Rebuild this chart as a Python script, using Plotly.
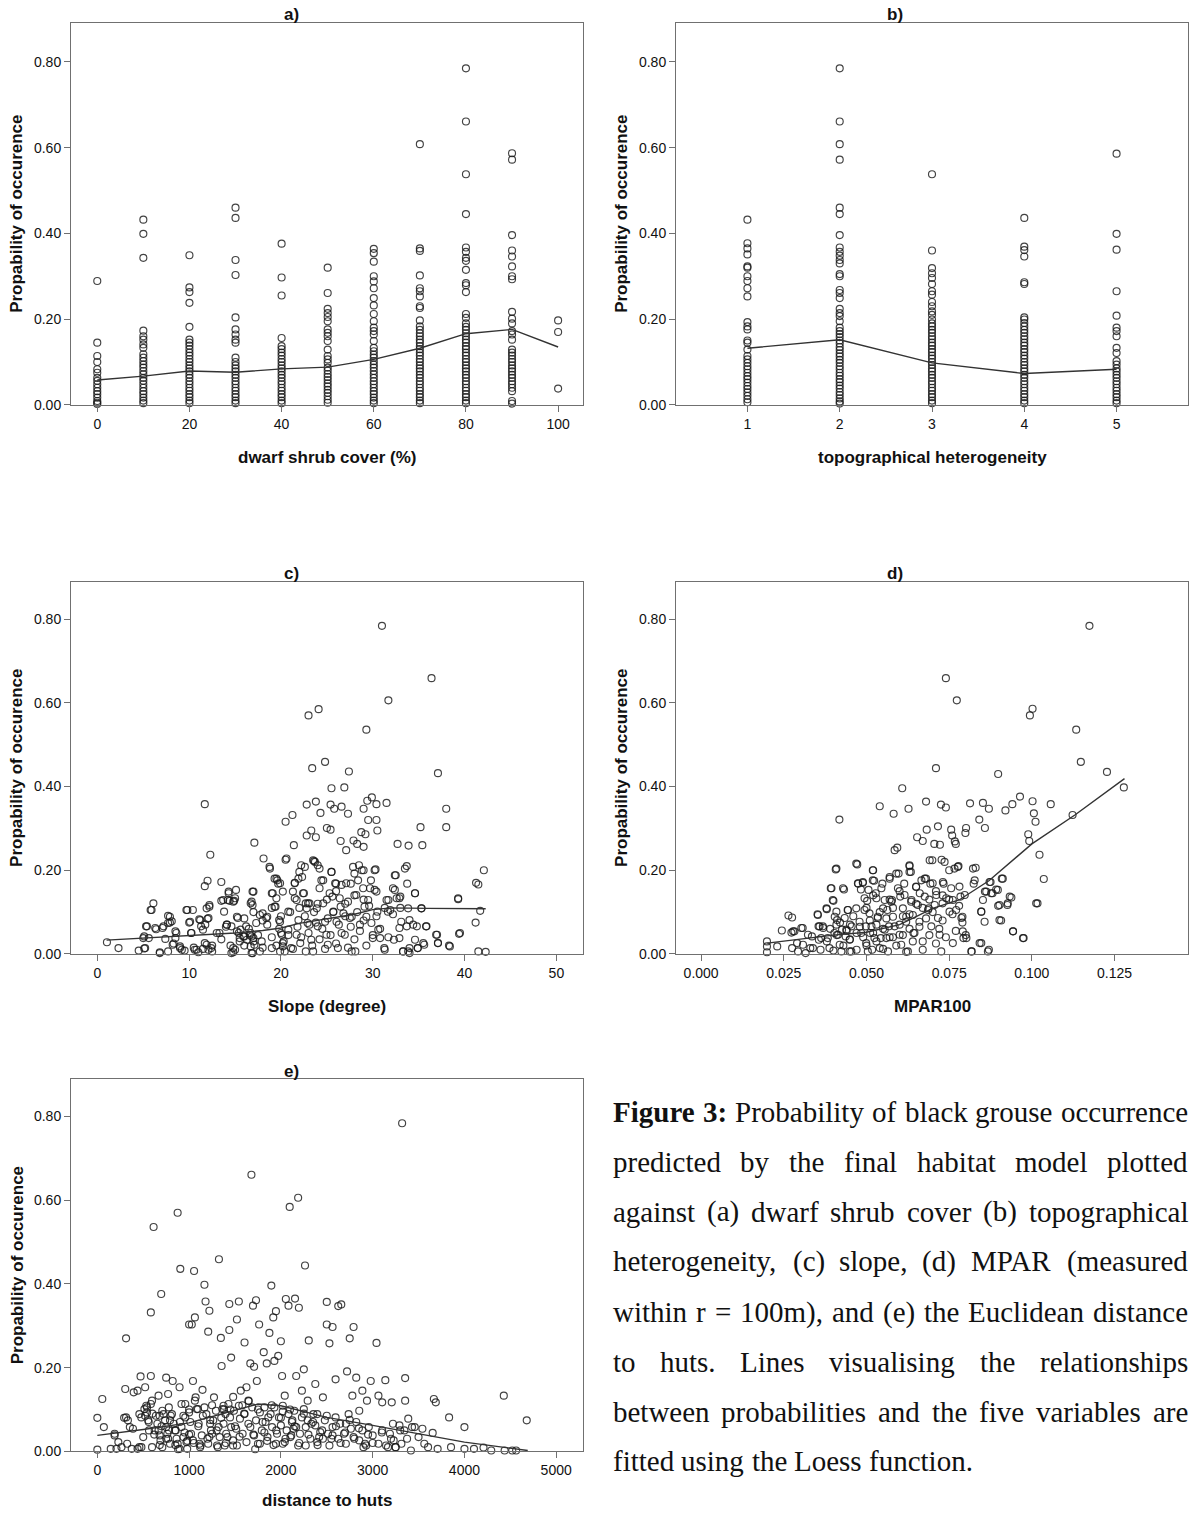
import plotly.graph_objects as go

# reference page size; the page's default body margin is removed in the written html
PAGE_W, PAGE_H = 1189, 1521
OFF = 0
W, H = PAGE_W, PAGE_H

# ---------------- data ----------------
# (a) dwarf shrub cover (%)  -> probability values per cover class
shrub_0 = [0.289, 0.145, 0.114, 0.100, 0.083, 0.075, 0.063, 0.056, 0.048, 0.040, 0.032, 0.025, 0.017, 0.009, 0.005, 0.002]
shrub_10 = [0.432, 0.399, 0.343, 0.173, 0.160, 0.152, 0.141, 0.133, 0.118, 0.110, 0.102, 0.094, 0.087, 0.079, 0.071, 0.063, 0.056, 0.048, 0.040, 0.032, 0.025, 0.017, 0.010, 0.004]
shrub_20 = [0.349, 0.274, 0.263, 0.238, 0.182, 0.152, 0.145, 0.138, 0.130, 0.122, 0.115, 0.107, 0.100, 0.092, 0.085, 0.078, 0.070, 0.063, 0.055, 0.048, 0.040, 0.033, 0.025, 0.018, 0.010, 0.004]
shrub_30 = [0.460, 0.436, 0.338, 0.303, 0.204, 0.176, 0.164, 0.152, 0.145, 0.110, 0.100, 0.092, 0.085, 0.078, 0.070, 0.063, 0.055, 0.048, 0.040, 0.033, 0.025, 0.018, 0.010, 0.004]
shrub_40 = [0.376, 0.297, 0.255, 0.156, 0.137, 0.130, 0.122, 0.115, 0.107, 0.100, 0.092, 0.085, 0.078, 0.070, 0.063, 0.055, 0.048, 0.040, 0.033, 0.025, 0.018, 0.010, 0.004]
shrub_50 = [0.320, 0.261, 0.224, 0.214, 0.205, 0.195, 0.176, 0.168, 0.160, 0.149, 0.129, 0.114, 0.106, 0.098, 0.087, 0.080, 0.072, 0.065, 0.058, 0.050, 0.043, 0.035, 0.028, 0.020, 0.012, 0.005]
shrub_60 = [0.364, 0.354, 0.334, 0.300, 0.288, 0.272, 0.249, 0.232, 0.212, 0.195, 0.180, 0.172, 0.164, 0.149, 0.133, 0.125, 0.117, 0.110, 0.102, 0.094, 0.087, 0.079, 0.071, 0.063, 0.055, 0.048, 0.040, 0.032, 0.025, 0.017, 0.010, 0.004]
shrub_70 = [0.608, 0.365, 0.359, 0.302, 0.272, 0.265, 0.253, 0.230, 0.226, 0.197, 0.183, 0.175, 0.167, 0.160, 0.152, 0.145, 0.137, 0.130, 0.122, 0.115, 0.107, 0.100, 0.092, 0.085, 0.078, 0.070, 0.063, 0.055, 0.048, 0.040, 0.033, 0.025, 0.018, 0.010, 0.004]
shrub_80 = [0.785, 0.661, 0.538, 0.445, 0.367, 0.357, 0.343, 0.336, 0.315, 0.284, 0.279, 0.263, 0.212, 0.203, 0.190, 0.182, 0.175, 0.167, 0.160, 0.152, 0.145, 0.137, 0.130, 0.122, 0.115, 0.107, 0.100, 0.092, 0.085, 0.078, 0.070, 0.063, 0.055, 0.048, 0.040, 0.033, 0.025, 0.018, 0.010, 0.004]
shrub_90 = [0.587, 0.572, 0.396, 0.360, 0.346, 0.323, 0.300, 0.293, 0.217, 0.201, 0.190, 0.172, 0.164, 0.152, 0.129, 0.122, 0.115, 0.107, 0.100, 0.092, 0.085, 0.078, 0.070, 0.063, 0.055, 0.048, 0.040, 0.032, 0.009, 0.003]
shrub_100 = [0.197, 0.170, 0.038]
shrub_classes = [0, 10, 20, 30, 40, 50, 60, 70, 80, 90, 100]
shrub_groups = [shrub_0, shrub_10, shrub_20, shrub_30, shrub_40, shrub_50, shrub_60, shrub_70, shrub_80, shrub_90, shrub_100]
shrub_loess = [0.058, 0.067, 0.079, 0.076, 0.084, 0.088, 0.106, 0.132, 0.166, 0.176, 0.135]

# (b) topographical heterogeneity
topo_1 = [0.432, 0.377, 0.365, 0.351, 0.323, 0.320, 0.300, 0.289, 0.272, 0.253, 0.193, 0.183, 0.176, 0.150, 0.145, 0.129, 0.114, 0.106, 0.098, 0.090, 0.083, 0.075, 0.067, 0.060, 0.052, 0.044, 0.037, 0.029, 0.021, 0.013, 0.006]
topo_2 = [0.785, 0.661, 0.608, 0.572, 0.460, 0.445, 0.396, 0.367, 0.357, 0.348, 0.338, 0.330, 0.305, 0.300, 0.268, 0.261, 0.249, 0.224, 0.214, 0.207, 0.195, 0.180, 0.172, 0.165, 0.158, 0.150, 0.143, 0.135, 0.128, 0.120, 0.113, 0.105, 0.098, 0.090, 0.083, 0.075, 0.068, 0.060, 0.053, 0.045, 0.038, 0.030, 0.023, 0.015, 0.008, 0.003]
topo_3 = [0.538, 0.360, 0.319, 0.307, 0.296, 0.282, 0.265, 0.257, 0.240, 0.230, 0.218, 0.210, 0.199, 0.190, 0.183, 0.175, 0.168, 0.160, 0.153, 0.145, 0.138, 0.130, 0.123, 0.115, 0.108, 0.100, 0.093, 0.085, 0.078, 0.070, 0.063, 0.055, 0.048, 0.040, 0.033, 0.025, 0.018, 0.010, 0.004]
topo_4 = [0.436, 0.369, 0.361, 0.346, 0.286, 0.282, 0.204, 0.199, 0.191, 0.183, 0.175, 0.168, 0.160, 0.153, 0.145, 0.138, 0.130, 0.123, 0.115, 0.108, 0.100, 0.093, 0.085, 0.078, 0.070, 0.063, 0.055, 0.048, 0.040, 0.033, 0.025, 0.018, 0.010, 0.004]
topo_5 = [0.586, 0.399, 0.362, 0.265, 0.208, 0.180, 0.172, 0.160, 0.133, 0.121, 0.102, 0.094, 0.085, 0.078, 0.070, 0.063, 0.055, 0.048, 0.040, 0.033, 0.025, 0.018, 0.010, 0.004]
topo_classes = [1, 2, 3, 4, 5]
topo_groups = [topo_1, topo_2, topo_3, topo_4, topo_5]
topo_loess = [0.132, 0.152, 0.098, 0.073, 0.083]

# (c) slope (degree)
slope_x = [1.04, 2.3, 4.5, 5.1, 5.4, 5.8, 6.1, 5.1, 5.6, 6.4, 6.8, 7.1, 7.4, 7.7, 7.9, 8.1, 7.7, 8.5, 8.5, 9.0, 9.2, 9.8, 10.4, 10.0, 10.2, 10.6, 11.0, 11.1, 11.7, 11.7, 12.0, 12.3, 12.2, 12.0, 11.75, 11.5, 11.9, 12.1, 12.5, 13.5, 13.5, 13.8, 14.1, 14.4, 14.3, 14.6, 14.8, 14.9, 15.1, 15.2, 15.4, 15.6, 16.0, 16.3, 16.7, 16.9, 16.9, 17.1, 16.7, 16.8, 16.7, 16.9, 17.3, 17.7, 18.0, 18.1, 18.5, 18.75, 19.0, 19.3, 19.6, 19.7, 19.4, 19.8, 20.0, 20.2, 20.4, 20.5, 20.5, 20.2, 20.8, 21.25, 21.4, 21.5, 21.5, 21.7, 21.9, 22.1, 22.3, 22.5, 22.7, 22.9, 22.7, 22.8, 22.8, 23.3, 23.4, 23.0, 24.1, 23.8, 23.8, 23.6, 24.0, 24.2, 24.3, 24.6, 24.8, 25.0, 25.4, 25.4, 25.5, 25.5, 25.8, 25.6, 26.0, 26.5, 26.5, 26.6, 26.9, 27.1, 27.3, 27.4, 27.6, 27.7, 28.1, 27.9, 28.3, 28.5, 28.75, 29.0, 29.0, 29.0, 29.2, 29.3, 29.4, 29.5, 29.8, 29.9, 30.2, 30.3, 30.4, 30.4, 30.5, 31.0, 31.25, 31.5, 31.7, 31.7, 31.9, 32.3, 32.4, 32.5, 32.7, 32.9, 33.0, 33.3, 33.7, 33.75, 33.9, 34.0, 34.0, 34.4, 34.6, 34.6, 34.9, 35.2, 35.3, 35.4, 35.6, 35.8, 36.4, 37.0, 37.1, 37.1, 38.0, 38.0, 38.3, 39.3, 39.4, 41.2, 41.25, 41.5, 41.5, 41.7, 42.1, 42.3,
           15.0, 15.5, 16.0, 16.5, 17.0, 17.5, 18.0, 18.5, 19.0, 19.5, 19.8, 20.3, 20.8, 21.3, 21.8, 22.2, 22.6, 23.0, 23.4, 23.6, 23.8, 24.2, 24.5, 24.8, 25.1, 25.4, 25.7, 26.0, 26.3, 26.6, 27.0, 27.3, 27.6, 28.0, 28.3, 28.6, 29.0, 29.3, 29.6, 30.0, 30.4, 30.8, 31.3, 31.7, 32.2, 33.0, 24.0, 25.0, 26.0, 27.0, 28.0, 29.0, 22.0, 21.0, 20.0, 19.0, 18.0, 17.0, 16.0, 13.0, 12.5, 13.5, 14.0, 14.5, 9.5, 10.5, 11.5, 8.3,
           5.0, 5.2, 5.3, 5.9, 6.3, 6.8, 7.2, 7.7, 7.9, 8.2, 8.6, 9.0, 9.7, 10.1, 10.25, 10.8, 11.2, 11.3, 11.9, 12.1, 12.2, 11.7, 12.4, 13.3, 13.7, 14.1, 14.2, 14.3, 14.8, 15.0, 15.2, 14.8, 14.6, 15.3, 15.5, 15.9, 16.2, 16.6, 16.8, 17.0, 17.0, 17.1, 16.8, 17.7, 17.9, 18.4, 18.8, 19.0, 19.1, 19.3, 19.5, 19.9, 19.5, 19.9, 20.1, 20.2, 19.9, 20.6, 20.8, 21.1, 21.3, 21.5, 21.7, 21.9, 22.0, 22.2, 22.4, 22.6, 22.8, 22.95, 23.1, 23.1, 23.5, 23.7, 23.3, 23.5, 23.9, 24.0, 24.2, 24.4, 24.6, 24.8, 24.95, 25.1, 25.3, 25.5, 25.7, 25.9, 26.05, 26.2, 26.4, 26.6, 26.8, 26.95, 27.1, 27.3, 27.5, 27.7, 27.85, 28.0, 28.2, 28.4, 28.6, 28.8, 28.95, 29.1, 29.3, 29.5, 29.7, 29.85, 30.0, 30.2, 30.4, 30.5, 30.6, 30.8, 31.3, 31.5, 31.65, 32.2, 32.4, 32.6, 32.9, 32.9, 33.1, 33.3, 33.5, 33.7, 33.85, 33.85, 34.0, 34.6, 34.8, 34.9, 35.3, 35.5, 35.85, 36.9, 37.1, 38.4, 39.3, 39.5]
slope_y = [0.028, 0.014, 0.008, 0.013, 0.066, 0.105, 0.121, 0.042, 0.038, 0.059, 0.004, 0.062, 0.036, 0.091, 0.075, 0.078, 0.006, 0.054, 0.038, 0.018, 0.010, 0.105, 0.105, 0.075, 0.050, 0.010, 0.004, 0.083, 0.358, 0.162, 0.175, 0.237, 0.117, 0.084, 0.070, 0.058, 0.022, 0.010, 0.006, 0.172, 0.127, 0.101, 0.070, 0.127, 0.145, 0.066, 0.004, 0.127, 0.153, 0.089, 0.050, 0.058, 0.042, 0.034, 0.121, 0.149, 0.117, 0.266, 0.050, 0.042, 0.018, 0.002, 0.074, 0.006, 0.097, 0.228, 0.089, 0.208, 0.145, 0.180, 0.176, 0.168, 0.113, 0.081, 0.050, 0.018, 0.006, 0.316, 0.225, 0.149, 0.101, 0.332, 0.260, 0.170, 0.133, 0.046, 0.081, 0.026, 0.184, 0.145, 0.121, 0.074, 0.006, 0.357, 0.283, 0.295, 0.444, 0.570, 0.585, 0.364, 0.279, 0.222, 0.212, 0.204, 0.337, 0.176, 0.459, 0.301, 0.297, 0.357, 0.396, 0.196, 0.347, 0.137, 0.168, 0.113, 0.270, 0.352, 0.398, 0.248, 0.335, 0.436, 0.168, 0.089, 0.006, 0.271, 0.263, 0.212, 0.291, 0.347, 0.256, 0.200, 0.286, 0.536, 0.366, 0.320, 0.176, 0.374, 0.153, 0.202, 0.320, 0.358, 0.295, 0.784, 0.014, 0.361, 0.606, 0.129, 0.105, 0.034, 0.153, 0.188, 0.263, 0.062, 0.137, 0.006, 0.210, 0.168, 0.259, 0.002, 0.081, 0.070, 0.034, 0.145, 0.014, 0.303, 0.109, 0.260, 0.022, 0.066, 0.659, 0.046, 0.432, 0.026, 0.347, 0.303, 0.020, 0.131, 0.048, 0.075, 0.170, 0.166, 0.006, 0.103, 0.200, 0.005,
           0.010, 0.030, 0.020, 0.060, 0.030, 0.045, 0.015, 0.070, 0.040, 0.020, 0.060, 0.030, 0.045, 0.012, 0.065, 0.040, 0.090, 0.050, 0.020, 0.100, 0.075, 0.035, 0.060, 0.012, 0.085, 0.045, 0.100, 0.025, 0.070, 0.050, 0.090, 0.015, 0.065, 0.035, 0.100, 0.055, 0.080, 0.020, 0.115, 0.045, 0.090, 0.060, 0.110, 0.040, 0.095, 0.110, 0.120, 0.130, 0.150, 0.120, 0.140, 0.130, 0.110, 0.100, 0.090, 0.110, 0.080, 0.100, 0.085, 0.050, 0.020, 0.035, 0.065, 0.020, 0.008, 0.015, 0.012, 0.025,
           0.038, 0.014, 0.066, 0.105, 0.062, 0.002, 0.066, 0.074, 0.089, 0.022, 0.050, 0.014, 0.105, 0.077, 0.050, 0.010, 0.081, 0.066, 0.109, 0.086, 0.113, 0.026, 0.014, 0.050, 0.129, 0.070, 0.129, 0.149, 0.125, 0.133, 0.054, 0.014, 0.002, 0.086, 0.038, 0.042, 0.066, 0.046, 0.125, 0.149, 0.038, 0.022, 0.002, 0.093, 0.030, 0.086, 0.204, 0.014, 0.145, 0.113, 0.180, 0.169, 0.133, 0.077, 0.046, 0.026, 0.006, 0.228, 0.058, 0.014, 0.149, 0.169, 0.129, 0.180, 0.196, 0.212, 0.145, 0.208, 0.109, 0.121, 0.070, 0.121, 0.224, 0.220, 0.034, 0.006, 0.109, 0.066, 0.157, 0.176, 0.121, 0.077, 0.046, 0.022, 0.145, 0.196, 0.101, 0.169, 0.077, 0.014, 0.133, 0.165, 0.097, 0.046, 0.169, 0.125, 0.086, 0.006, 0.208, 0.192, 0.141, 0.176, 0.070, 0.200, 0.157, 0.113, 0.089, 0.129, 0.157, 0.074, 0.038, 0.200, 0.149, 0.101, 0.058, 0.038, 0.010, 0.129, 0.101, 0.157, 0.188, 0.133, 0.133, 0.038, 0.077, 0.006, 0.204, 0.066, 0.006, 0.109, 0.014, 0.145, 0.066, 0.014, 0.109, 0.026, 0.066, 0.046, 0.026, 0.018, 0.133, 0.050]
slope_loess_x = [1, 5, 10, 15, 18, 20, 22, 24, 26, 28, 30, 32, 36, 42.3]
slope_loess_y = [0.033, 0.038, 0.044, 0.050, 0.056, 0.062, 0.073, 0.080, 0.087, 0.095, 0.106, 0.110, 0.109, 0.108]

# (d) MPAR100
mpar_x = [0.0199, 0.0199, 0.0199, 0.023, 0.0244, 0.0264, 0.0275, 0.0273, 0.0282, 0.0275, 0.029, 0.0293, 0.0307, 0.0316, 0.033, 0.0335, 0.0352, 0.0355, 0.0356, 0.0361, 0.0369, 0.038, 0.0392, 0.040, 0.0403, 0.0407, 0.0409, 0.0411, 0.0418, 0.0426, 0.0432, 0.0437, 0.0443, 0.0449, 0.0455, 0.0472, 0.0475, 0.0483, 0.0489, 0.0494, 0.0498, 0.0502, 0.0506, 0.0511, 0.0517, 0.052, 0.0523, 0.0528, 0.0534, 0.054, 0.0543, 0.0548, 0.0555, 0.0563, 0.0568, 0.057, 0.0577, 0.0582, 0.0585, 0.0593, 0.0597, 0.0602, 0.0608, 0.0614, 0.062, 0.0627, 0.063, 0.0634, 0.0636, 0.0642, 0.0653, 0.0661, 0.067, 0.0676, 0.068, 0.0682, 0.0688, 0.0693, 0.0699, 0.0705, 0.071, 0.0716, 0.0722, 0.0725, 0.0727, 0.073, 0.0733, 0.074, 0.074, 0.075, 0.0756, 0.0759, 0.0761, 0.0767, 0.077, 0.0773, 0.0778, 0.0784, 0.079, 0.0793, 0.0799, 0.0801, 0.0813, 0.0818, 0.0824, 0.083, 0.0841, 0.0847, 0.0847, 0.0852, 0.0858, 0.0858, 0.087, 0.087, 0.0875, 0.0881, 0.0892, 0.0898, 0.0898, 0.0907, 0.0909, 0.092, 0.0926, 0.0938, 0.0941, 0.0943, 0.0964, 0.0975, 0.0989, 0.0992, 0.0994, 0.1002, 0.1002, 0.1006, 0.1011, 0.1017, 0.1023, 0.1036, 0.1057, 0.1123, 0.1134, 0.1148, 0.1227, 0.1278, 0.1174,
          0.038, 0.039, 0.040, 0.041, 0.042, 0.043, 0.044, 0.045, 0.046, 0.047, 0.048, 0.049, 0.050, 0.050, 0.051, 0.052, 0.053, 0.054, 0.055, 0.055, 0.056, 0.057, 0.058, 0.059, 0.060, 0.061, 0.062, 0.063, 0.064, 0.065, 0.066, 0.067, 0.068, 0.069, 0.070, 0.071, 0.072, 0.073, 0.074, 0.075, 0.076, 0.077, 0.078, 0.079, 0.080, 0.045, 0.047, 0.053, 0.058, 0.061, 0.063, 0.067, 0.069, 0.071, 0.073, 0.065, 0.060, 0.057, 0.052,
          0.0278, 0.0303, 0.0308, 0.0323, 0.0338, 0.0353, 0.0358, 0.0363, 0.0368, 0.0379, 0.0383, 0.0388, 0.0394, 0.0398, 0.0404, 0.0409, 0.0409, 0.0414, 0.0419, 0.0424, 0.0429, 0.0434, 0.0439, 0.0444, 0.0449, 0.0454, 0.0469, 0.0469, 0.0474, 0.0479, 0.0484, 0.0489, 0.0494, 0.0499, 0.0504, 0.0509, 0.0515, 0.0519, 0.0519, 0.0524, 0.053, 0.0534, 0.054, 0.0545, 0.055, 0.0555, 0.056, 0.0565, 0.057, 0.0575, 0.058, 0.0585, 0.059, 0.0595, 0.060, 0.0605, 0.061, 0.0615, 0.062, 0.0625, 0.063, 0.063, 0.0635, 0.064, 0.0645, 0.065, 0.0655, 0.066, 0.0666, 0.067, 0.0676, 0.068, 0.0686, 0.0691, 0.0696, 0.070, 0.0706, 0.0711, 0.0716, 0.0721, 0.0726, 0.0731, 0.0736, 0.0741, 0.0751, 0.0756, 0.0761, 0.0766, 0.0771, 0.0776, 0.0781, 0.0787, 0.0791, 0.0797, 0.0802, 0.0817, 0.0822, 0.0827, 0.0842, 0.0847, 0.0852, 0.0857, 0.0862, 0.0867, 0.0872, 0.0877, 0.0897, 0.0902, 0.0902, 0.0912, 0.0927, 0.0933, 0.0943, 0.0973, 0.1013]
mpar_y = [0.030, 0.018, 0.004, 0.018, 0.056, 0.092, 0.087, 0.051, 0.054, 0.014, 0.026, 0.006, 0.062, 0.002, 0.014, 0.042, 0.095, 0.066, 0.034, 0.010, 0.062, 0.107, 0.157, 0.127, 0.050, 0.202, 0.101, 0.081, 0.321, 0.058, 0.154, 0.042, 0.105, 0.006, 0.066, 0.214, 0.168, 0.154, 0.170, 0.105, 0.066, 0.127, 0.153, 0.050, 0.010, 0.200, 0.175, 0.145, 0.089, 0.353, 0.038, 0.168, 0.129, 0.105, 0.066, 0.184, 0.129, 0.335, 0.248, 0.254, 0.192, 0.137, 0.396, 0.168, 0.089, 0.347, 0.210, 0.196, 0.129, 0.050, 0.279, 0.145, 0.270, 0.180, 0.364, 0.297, 0.109, 0.168, 0.224, 0.263, 0.444, 0.305, 0.261, 0.357, 0.225, 0.121, 0.168, 0.350, 0.659, 0.200, 0.297, 0.283, 0.129, 0.269, 0.263, 0.606, 0.210, 0.137, 0.089, 0.038, 0.289, 0.301, 0.360, 0.006, 0.168, 0.206, 0.321, 0.101, 0.026, 0.361, 0.301, 0.149, 0.347, 0.010, 0.172, 0.145, 0.154, 0.430, 0.115, 0.080, 0.180, 0.343, 0.117, 0.135, 0.358, 0.054, 0.376, 0.038, 0.286, 0.270, 0.570, 0.586, 0.365, 0.336, 0.316, 0.121, 0.237, 0.179, 0.358, 0.332, 0.536, 0.459, 0.435, 0.398, 0.784,
          0.030, 0.060, 0.008, 0.045, 0.075, 0.020, 0.055, 0.035, 0.090, 0.010, 0.065, 0.040, 0.110, 0.020, 0.080, 0.050, 0.030, 0.100, 0.060, 0.012, 0.085, 0.040, 0.110, 0.020, 0.070, 0.045, 0.005, 0.095, 0.030, 0.120, 0.065, 0.010, 0.085, 0.045, 0.100, 0.025, 0.060, 0.080, 0.040, 0.130, 0.095, 0.055, 0.115, 0.075, 0.045, 0.070, 0.050, 0.070, 0.040, 0.090, 0.060, 0.110, 0.130, 0.150, 0.140, 0.160, 0.150, 0.130, 0.140,
          0.054, 0.062, 0.022, 0.046, 0.014, 0.093, 0.066, 0.038, 0.066, 0.109, 0.038, 0.014, 0.157, 0.129, 0.089, 0.204, 0.070, 0.046, 0.022, 0.006, 0.157, 0.086, 0.058, 0.105, 0.034, 0.006, 0.216, 0.109, 0.169, 0.077, 0.050, 0.172, 0.133, 0.026, 0.006, 0.097, 0.066, 0.200, 0.176, 0.038, 0.133, 0.086, 0.014, 0.157, 0.109, 0.058, 0.038, 0.006, 0.180, 0.125, 0.089, 0.066, 0.192, 0.157, 0.046, 0.022, 0.109, 0.141, 0.077, 0.006, 0.212, 0.196, 0.125, 0.093, 0.050, 0.161, 0.117, 0.077, 0.176, 0.030, 0.137, 0.180, 0.105, 0.224, 0.066, 0.169, 0.117, 0.141, 0.086, 0.046, 0.006, 0.172, 0.220, 0.133, 0.101, 0.157, 0.026, 0.204, 0.105, 0.208, 0.161, 0.086, 0.054, 0.141, 0.038, 0.006, 0.204, 0.176, 0.026, 0.101, 0.129, 0.077, 0.149, 0.006, 0.172, 0.145, 0.153, 0.117, 0.081, 0.180, 0.121, 0.137, 0.054, 0.038, 0.121]
mpar_loess_x = [0.020, 0.030, 0.040, 0.050, 0.060, 0.065, 0.070, 0.078, 0.087, 0.100, 0.113, 0.128]
mpar_loess_y = [0.026, 0.035, 0.045, 0.052, 0.070, 0.089, 0.109, 0.129, 0.175, 0.263, 0.332, 0.419]

# (e) distance to huts
huts_x = [0, 0, 54, 71, 146, 208, 188, 229, 263, 292, 304, 313, 325, 354, 375, 396, 438, 438, 458, 471, 500, 521, 542, 583, 583, 596, 613, 625, 667, 679, 696, 708, 750, 771, 779, 792, 821, 846, 875, 896, 904, 917, 938, 958, 979, 1000, 1029, 1042, 1054, 1063, 1071, 1096, 1113, 1146, 1167, 1179, 1208, 1221, 1229, 1250, 1271, 1313, 1325, 1346, 1354, 1375, 1396, 1417, 1438, 1438, 1458, 1479, 1521, 1542, 1563, 1604, 1625, 1646, 1667, 1679, 1696, 1708, 1729, 1738, 1763, 1771, 1813, 1846, 1863, 1875, 1896, 1917, 1929, 1946, 1971, 2000, 2013, 2021, 2042, 2054, 2083, 2096, 2113, 2138, 2154, 2167, 2188, 2196, 2229, 2250, 2263, 2271, 2292, 2304, 2333, 2375, 2396, 2417, 2458, 2500, 2500, 2529, 2563, 2563, 2596, 2625, 2658, 2708, 2721, 2750, 2779, 2792, 2821, 2854, 2888, 2929, 2938, 2979, 3042, 3063, 3104, 3138, 3167, 3208, 3221, 3321, 3354, 3354, 3388, 3417, 3429, 3542, 3604, 3654, 3667, 3688, 3708, 3833, 3854, 4000, 4000, 4104, 4208, 4292, 4429, 4438, 4521, 4563, 4679,
          600, 700, 750, 800, 850, 900, 950, 1000, 1050, 1100, 1150, 1200, 1250, 1300, 1350, 1400, 1450, 1500, 1550, 1600, 1650, 1700, 1750, 1800, 1850, 1900, 1950, 2000, 2050, 2100, 2150, 2200, 2250, 2300, 2350, 2400, 2450, 2500, 2550, 2600, 2650, 2700, 2750, 2800, 2850, 2900, 2950, 3000, 3100, 3200, 3250, 3300, 1000, 1120, 1230, 1380, 1480, 1580, 1720, 1820, 1920, 2020, 2120, 680, 780, 880, 980, 560, 620, 480, 520,
          188, 313, 333, 388, 458, 479, 513, 533, 542, 554, 563, 583, 596, 638, 654, 667, 679, 688, 708, 721, 738, 750, 763, 771, 792, 813, 833, 854, 863, 875, 896, 917, 938, 958, 971, 1000, 1013, 1021, 1042, 1063, 1083, 1104, 1125, 1138, 1167, 1188, 1208, 1221, 1238, 1263, 1292, 1304, 1321, 1333, 1363, 1375, 1388, 1404, 1429, 1446, 1458, 1479, 1488, 1513, 1521, 1542, 1554, 1583, 1604, 1625, 1646, 1667, 1688, 1708, 1729, 1750, 1771, 1792, 1821, 1833, 1854, 1888, 1904, 1929, 1946, 1958, 1979, 2000, 2021, 2042, 2063, 2083, 2104, 2125, 2146, 2167, 2188, 2208, 2229, 2250, 2271, 2292, 2321, 2354, 2375, 2396, 2429, 2458, 2479, 2513, 2529, 2563, 2596, 2625, 2646, 2688, 2708, 2738, 2763, 2792, 2821, 2854, 2888, 2917, 2958, 3000, 3063, 3104, 3146, 3188, 3229, 3250, 3292, 3313, 3346, 3375, 3458, 3500, 3563]
huts_y = [0.080, 0.004, 0.125, 0.058, 0.006, 0.006, 0.038, 0.022, 0.010, 0.080, 0.149, 0.270, 0.018, 0.058, 0.006, 0.141, 0.145, 0.006, 0.089, 0.179, 0.034, 0.153, 0.105, 0.332, 0.180, 0.121, 0.536, 0.050, 0.133, 0.085, 0.376, 0.010, 0.176, 0.137, 0.105, 0.074, 0.168, 0.050, 0.570, 0.153, 0.436, 0.113, 0.034, 0.081, 0.006, 0.303, 0.303, 0.168, 0.431, 0.320, 0.129, 0.101, 0.018, 0.147, 0.398, 0.358, 0.286, 0.336, 0.066, 0.042, 0.129, 0.010, 0.459, 0.271, 0.204, 0.109, 0.089, 0.034, 0.352, 0.290, 0.224, 0.014, 0.315, 0.358, 0.145, 0.260, 0.153, 0.066, 0.210, 0.661, 0.348, 0.202, 0.361, 0.168, 0.303, 0.018, 0.237, 0.210, 0.081, 0.283, 0.396, 0.320, 0.216, 0.335, 0.228, 0.263, 0.180, 0.018, 0.133, 0.364, 0.348, 0.584, 0.038, 0.054, 0.365, 0.180, 0.606, 0.343, 0.145, 0.196, 0.444, 0.014, 0.121, 0.265, 0.066, 0.161, 0.089, 0.034, 0.129, 0.357, 0.303, 0.258, 0.297, 0.038, 0.172, 0.347, 0.351, 0.066, 0.191, 0.270, 0.133, 0.297, 0.176, 0.097, 0.145, 0.014, 0.121, 0.168, 0.259, 0.133, 0.117, 0.170, 0.010, 0.117, 0.066, 0.784, 0.175, 0.121, 0.078, 0.002, 0.058, 0.054, 0.010, 0.044, 0.125, 0.117, 0.006, 0.081, 0.010, 0.058, 0.006, 0.006, 0.009, 0.002, 0.133, 0.002, 0.002, 0.002, 0.074,
          0.090, 0.060, 0.030, 0.085, 0.015, 0.070, 0.045, 0.100, 0.020, 0.060, 0.085, 0.030, 0.110, 0.050, 0.080, 0.020, 0.100, 0.060, 0.035, 0.090, 0.120, 0.040, 0.100, 0.070, 0.025, 0.110, 0.050, 0.080, 0.030, 0.100, 0.060, 0.020, 0.090, 0.040, 0.070, 0.015, 0.050, 0.085, 0.030, 0.060, 0.020, 0.045, 0.075, 0.030, 0.055, 0.010, 0.040, 0.020, 0.045, 0.030, 0.010, 0.050, 0.040, 0.010, 0.075, 0.100, 0.130, 0.110, 0.005, 0.045, 0.015, 0.095, 0.070, 0.015, 0.050, 0.005, 0.025, 0.070, 0.040, 0.010, 0.085,
          0.042, 0.081, 0.074, 0.054, 0.010, 0.081, 0.101, 0.109, 0.093, 0.074, 0.050, 0.113, 0.010, 0.085, 0.066, 0.050, 0.038, 0.026, 0.097, 0.089, 0.074, 0.058, 0.042, 0.030, 0.018, 0.089, 0.066, 0.050, 0.030, 0.018, 0.006, 0.058, 0.085, 0.113, 0.022, 0.093, 0.070, 0.042, 0.026, 0.121, 0.101, 0.066, 0.014, 0.038, 0.105, 0.089, 0.018, 0.034, 0.050, 0.074, 0.097, 0.014, 0.058, 0.034, 0.101, 0.066, 0.014, 0.042, 0.113, 0.081, 0.058, 0.026, 0.097, 0.054, 0.014, 0.109, 0.078, 0.042, 0.089, 0.022, 0.121, 0.058, 0.105, 0.038, 0.074, 0.018, 0.093, 0.050, 0.105, 0.070, 0.034, 0.089, 0.058, 0.105, 0.018, 0.042, 0.081, 0.062, 0.109, 0.022, 0.050, 0.089, 0.034, 0.074, 0.097, 0.058, 0.014, 0.042, 0.081, 0.101, 0.058, 0.074, 0.030, 0.089, 0.062, 0.022, 0.046, 0.030, 0.074, 0.042, 0.014, 0.058, 0.081, 0.030, 0.066, 0.042, 0.018, 0.089, 0.054, 0.034, 0.070, 0.026, 0.050, 0.018, 0.058, 0.038, 0.018, 0.050, 0.014, 0.042, 0.026, 0.010, 0.062, 0.018, 0.050, 0.030, 0.058, 0.034, 0.018]
huts_loess_x = [0, 500, 1000, 1500, 1750, 2000, 2500, 3000, 3500, 4000, 4690]
huts_loess_y = [0.038, 0.052, 0.068, 0.097, 0.113, 0.109, 0.081, 0.062, 0.042, 0.022, 0.002]

y_ticks = [0.0, 0.2, 0.4, 0.6, 0.8]

# caption text (justified paragraph, last line left-aligned)
caption_lines = [
    "Figure 3: Probability of black grouse occurrence",
    "predicted by the final habitat model plotted",
    "against (a) dwarf shrub cover (b) topographical",
    "heterogeneity, (c) slope, (d) MPAR (measured",
    "within r = 100m), and (e) the Euclidean distance",
    "to huts. Lines visualising the relationships",
    "between probabilities and the five variables are",
    "fitted using the Loess function.",
]


def px(x):  # reference page pixel -> paper fraction
    return (x - OFF) / W


def py(y):
    return 1 - (y - OFF) / H


# ---------------- figure ----------------
fig = go.Figure()

MARK = dict(symbol="circle-open", size=7, color="rgba(25,25,25,0.82)", line=dict(width=1.15))
LINE = dict(color="#333333", width=1.4)


def add_panel(n, xs, ys, lx, ly):
    xa = "x" if n == 1 else f"x{n}"
    ya = "y" if n == 1 else f"y{n}"
    fig.add_trace(go.Scatter(x=xs, y=ys, mode="markers", marker=MARK, xaxis=xa, yaxis=ya,
                             cliponaxis=False, showlegend=False, hoverinfo="skip"))
    fig.add_trace(go.Scatter(x=lx, y=ly, mode="lines", line=LINE, xaxis=xa, yaxis=ya,
                             cliponaxis=False, showlegend=False, hoverinfo="skip"))


ax_x, ax_y = [], []
for c, g in zip(shrub_classes, shrub_groups):
    ax_x += [c] * len(g)
    ax_y += g
add_panel(1, ax_x, ax_y, shrub_classes, shrub_loess)

bx_x, bx_y = [], []
for c, g in zip(topo_classes, topo_groups):
    bx_x += [c] * len(g)
    bx_y += g
add_panel(2, bx_x, bx_y, topo_classes, topo_loess)

add_panel(3, slope_x, slope_y, slope_loess_x, slope_loess_y)
add_panel(4, mpar_x, mpar_y, mpar_loess_x, mpar_loess_y)
add_panel(5, huts_x, huts_y, huts_loess_x, huts_loess_y)

# plot-area boxes in reference page pixels (left, right, top, bottom)
boxes = {
    1: (71, 583, 23, 407),
    2: (676, 1188, 23, 407),
    3: (71, 583, 585, 959),
    4: (676, 1188, 585, 959),
    5: (71, 583, 1085, 1459),
}
xranges = {1: [-5.7, 105.4], 2: [0.226, 5.774], 3: [-2.875, 52.9], 4: [-0.0076, 0.1472], 5: [-287, 5292]}
xticks = {1: [0, 20, 40, 60, 80, 100], 2: [1, 2, 3, 4, 5], 3: [0, 10, 20, 30, 40, 50],
          4: [0.0, 0.025, 0.05, 0.075, 0.1, 0.125], 5: [0, 1000, 2000, 3000, 4000, 5000]}
xfmt = {1: "d", 2: "d", 3: "d", 4: ".3f", 5: "d"}
ytop = {1: 0.891, 2: 0.891, 3: 0.889, 4: 0.889, 5: 0.889}

FRAME = "#707070"
TICKFONT = dict(family="Arial, Liberation Sans, sans-serif", size=14, color="#111")
layout = {}
for n, (l, r, t, b) in boxes.items():
    sx = "" if n == 1 else str(n)
    layout[f"xaxis{sx}"] = dict(
        domain=[px(l), min(px(r), 1.0)], range=xranges[n], anchor=f"y{sx}", tickvals=xticks[n],
        tickformat=xfmt[n], showgrid=False, zeroline=False, showline=True, linecolor=FRAME,
        linewidth=1, mirror=True, ticks="outside", ticklen=6, tickcolor=FRAME, tickfont=TICKFONT)
    layout[f"yaxis{sx}"] = dict(
        domain=[py(b), py(t)], range=[0, ytop[n]], anchor=f"x{sx}", tickvals=y_ticks,
        tickformat=".2f", showgrid=False, zeroline=False, showline=True, linecolor=FRAME,
        linewidth=1, mirror=True, ticks="outside", ticklen=6, tickcolor=FRAME, tickfont=TICKFONT)

annotations = []
BOLD = dict(family="Arial, Liberation Sans, sans-serif", size=17, color="#111")
titles = {1: "a)", 2: "b)", 3: "c)", 4: "d)", 5: "e)"}
xtitles = {1: "dwarf shrub cover (%)", 2: "topographical heterogeneity", 3: "Slope (degree)",
           4: "MPAR100", 5: "distance to huts"}
for n, (l, r, t, b) in boxes.items():
    left_edge = 0 if l < 300 else 600
    right_edge = 583 if l < 300 else 1189
    annotations.append(dict(text=f"<b>{titles[n]}</b>", x=px((left_edge + right_edge) / 2), y=py(t - 8),
                            xref="paper", yref="paper", showarrow=False, xanchor="center", yanchor="middle", font=BOLD))
    annotations.append(dict(text=f"<b>{xtitles[n]}</b>", x=px((l + r) / 2), y=py(min(b + 53, 1508)),
                            xref="paper", yref="paper", showarrow=False, xanchor="center", yanchor="middle", font=BOLD))
    annotations.append(dict(text="<b>Propability of occurence</b>", x=px(l - 54), y=py((t + b) / 2),
                            xref="paper", yref="paper", showarrow=False, xanchor="center", yanchor="middle",
                            textangle=-90, font=BOLD))

# ---- caption: justified layout using Times-compatible advance widths ----
TIMES = {" ": 250, "(": 333, ")": 333, ",": 250, ".": 250, "=": 564, ":": 278,
         "0": 500, "1": 500, "3": 500, "A": 722, "E": 611, "F": 556, "L": 611, "M": 889, "P": 556, "R": 667,
         "a": 444, "b": 500, "c": 444, "d": 500, "e": 444, "f": 333, "g": 500, "h": 500, "i": 278, "k": 500,
         "l": 278, "m": 778, "n": 500, "o": 500, "p": 500, "r": 333, "s": 389, "t": 278, "u": 500, "v": 500,
         "w": 722, "y": 500}
TIMES_BOLD = {"F": 611, "i": 278, "g": 500, "u": 556, "r": 444, "e": 444, "3": 500, ":": 333}
CAP_SIZE = 29
CAP_LEFT, CAP_RIGHT = 611, 1186
caption_line_y = [1118, 1168, 1218, 1268, 1319, 1369, 1419, 1469]
SERIF = dict(family="Liberation Serif, Times New Roman, serif", size=CAP_SIZE, color="#111")


def word_width(w, bold=False):
    table = TIMES_BOLD if bold else TIMES
    return sum(table.get(ch, TIMES.get(ch, 500)) for ch in w) * CAP_SIZE / 1000.0


for li, (line, yy) in enumerate(zip(caption_lines, caption_line_y)):
    words = line.split(" ")
    bold_flags = [li == 0 and wi < 2 for wi in range(len(words))]
    widths = [word_width(w, b) for w, b in zip(words, bold_flags)]
    last = li == len(caption_lines) - 1
    if last:
        gap = TIMES[" "] * CAP_SIZE / 1000.0
    else:
        gap = (CAP_RIGHT - CAP_LEFT - sum(widths)) / (len(words) - 1)
    xcur = CAP_LEFT
    for w, wd, b in zip(words, widths, bold_flags):
        annotations.append(dict(text=f"<b>{w}</b>" if b else w, x=px(xcur), y=py(yy), xref="paper", yref="paper",
                                showarrow=False, xanchor="left", yanchor="middle", font=SERIF))
        xcur += wd + gap

fig.update_layout(
    width=W, height=H, margin=dict(l=0, r=0, t=0, b=0),
    paper_bgcolor="white", plot_bgcolor="white", showlegend=False,
    annotations=annotations, **layout)

fig.write_html("out.html", config={"displayModeBar": False},
               post_script="document.body.style.margin='0';document.body.style.overflow='hidden';")
